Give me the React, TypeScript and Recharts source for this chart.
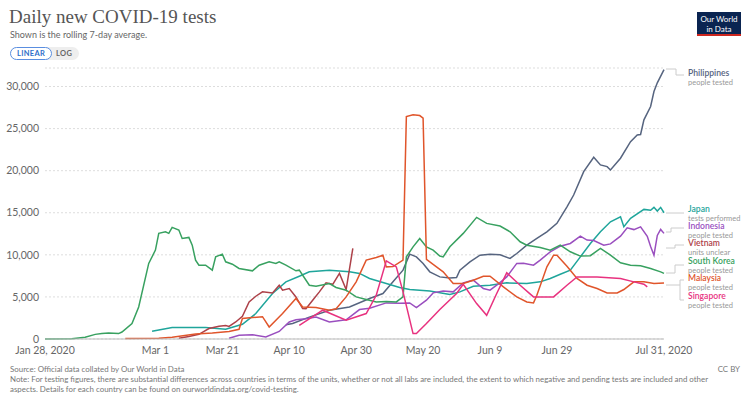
import React from "react";
import { LineChart, Line, XAxis, YAxis, CartesianGrid } from "recharts";

// x positions are days since Jan 28, 2020
const tickDays = [0, 33, 53, 73, 93, 113, 133, 153, 185];
const tickLabels = ["Jan 28, 2020", "Mar 1", "Mar 21", "Apr 10", "Apr 30", "May 20", "Jun 9", "Jun 29", "Jul 31, 2020"];
const yTicks = [0, 5000, 10000, 15000, 20000, 25000, 30000];

type Pt = [number, number];

const philippines: Pt[] = [
  [72, 1700], [74, 1850], [79, 2600], [85, 3420], [91, 3800], [97, 4810], [101, 5400], [104, 6790],
  [107, 8180], [109, 10080], [111, 9760], [113, 8980], [115, 7980], [118, 7380], [121, 7260], [123, 7300],
  [124, 8180], [127, 9170], [130, 9960], [133, 10080], [136, 10000], [139, 9570], [141, 10160], [144, 11150],
  [147, 11950], [150, 12740], [153, 13740], [156, 15710], [158, 17110], [161, 19880], [164, 21590], [166, 20680],
  [168, 20480], [169, 20080], [172, 21480], [175, 23450], [177, 24250], [178, 24300], [179, 26040], [181, 27630],
  [182, 29400], [183, 30440], [185, 32000],
];

const japan: Pt[] = [
  [32, 910], [38, 1360], [48, 1360], [54, 1150], [59, 1750], [63, 3020], [68, 5400], [72, 6790], [76, 7460],
  [79, 7980], [85, 8180], [91, 7980], [94, 7790], [97, 7190], [102, 6590], [106, 6120], [109, 5880], [115, 5710],
  [121, 5300], [124, 5600], [128, 6270], [133, 6390], [138, 6670], [144, 6600], [148, 6790], [151, 7190],
  [154, 7700], [157, 8180], [160, 9760], [163, 11350], [166, 12740], [169, 13930], [172, 14520], [173, 13330],
  [175, 14330], [179, 15400], [181, 15300], [182, 15640], [183, 15200], [184, 15640], [185, 15000],
];

const indonesia: Pt[] = [
  [55, 100], [58, 450], [62, 500], [66, 250], [70, 900], [73, 2020], [75, 2280], [78, 2400], [81, 2620],
  [85, 2020], [90, 2280], [94, 3500], [97, 3660], [102, 4290], [106, 4250], [109, 4290], [111, 3740],
  [114, 4610], [116, 5480], [119, 5710], [122, 5600], [125, 6670], [128, 6990], [131, 6000], [133, 5800],
  [135, 6390], [138, 7380], [141, 8980], [143, 9000], [146, 8770], [148, 9370], [151, 10360], [154, 11030],
  [157, 11350], [160, 12220], [162, 11750], [164, 11700], [167, 11150], [169, 11300], [172, 12220],
  [174, 13210], [176, 13000], [178, 13330], [180, 12200], [181, 11000], [182, 9960], [183, 12300],
  [184, 13020], [185, 12550],
];

const vietnam: Pt[] = [
  [40, 100], [43, 300], [46, 560], [49, 1240], [52, 1510], [54, 1600], [55, 1500], [57, 2020], [59, 2700],
  [61, 4400], [63, 5080], [65, 5600], [68, 5480], [70, 6390], [71, 5800], [73, 6000], [75, 5000], [77, 3620],
  [78, 3600], [80, 4610], [82, 5600], [84, 6670], [86, 6500], [88, 7790], [90, 5880], [92, 10760],
];

const southKorea: Pt[] = [
  [0, 0], [8, 30], [12, 200], [15, 550], [17, 640], [19, 700], [22, 640], [23, 830], [26, 1830], [28, 3800],
  [31, 8980], [33, 10560], [34, 12550], [36, 12740], [37, 12550], [38, 13260], [40, 12940], [41, 11950],
  [43, 12070], [44, 11150], [45, 9370], [46, 8770], [48, 8770], [50, 8180], [51, 9760], [53, 10080],
  [54, 9170], [56, 8890], [58, 8380], [62, 8100], [64, 8770], [67, 9170], [69, 8980], [70, 9170], [72, 8770],
  [75, 8100], [76, 8180], [79, 6390], [81, 6270], [85, 6590], [87, 6120], [90, 5800], [93, 5000], [96, 4690],
  [99, 4400], [102, 4450], [105, 4400], [107, 5000], [108, 9760], [110, 10950], [112, 11950], [114, 10950],
  [116, 10560], [118, 9850], [119, 9760], [121, 10950], [125, 12550], [129, 14450], [132, 13740],
  [136, 13420], [139, 12740], [142, 11550], [144, 11150], [148, 10880], [151, 10560], [154, 11150],
  [157, 10360], [160, 9850], [163, 9900], [166, 10760], [169, 9960], [172, 9050], [175, 8770], [178, 8690],
  [181, 8380], [184, 7980], [185, 7790],
];

const malaysia: Pt[] = [
  [24, 50], [34, 100], [38, 200], [45, 600], [50, 700], [55, 900], [58, 1150], [59, 2430], [62, 2550],
  [65, 2650], [67, 1430], [71, 3020], [75, 4810], [77, 3800], [81, 3750], [85, 3420], [87, 3600], [90, 5000],
  [93, 6790], [96, 9370], [99, 9690], [101, 9960], [102, 8570], [104, 8600], [107, 9370], [108, 26430],
  [110, 26630], [112, 26550], [113, 26240], [114, 9450], [117, 8570], [119, 7980], [122, 6590], [125, 6590],
  [128, 6990], [131, 7460], [133, 7460], [137, 6190], [141, 5000], [144, 4400], [146, 4290], [147, 5200],
  [150, 8570], [152, 9960], [153, 9960], [156, 8650], [159, 7190], [162, 6390], [165, 6000], [168, 5480],
  [171, 5480], [173, 5880], [176, 6790], [179, 6790], [182, 6590], [185, 6650],
];

const singapore: Pt[] = [
  [76, 1630], [83, 3420], [90, 2230], [96, 3020], [99, 5200], [102, 9290], [105, 8570], [107, 5600],
  [110, 640], [111, 640], [114, 1830], [118, 3500], [123, 5400], [125, 6500], [129, 4210], [132, 2820],
  [135, 5400], [138, 7860], [142, 6390], [146, 5000], [152, 5000], [156, 6390], [159, 7380], [165, 7380],
  [172, 7190], [176, 6790], [179, 6510], [180, 6190],
];

const series = [
  { name: "Philippines", unit: "people tested", color: "#56647f", values: philippines },
  { name: "Japan", unit: "tests performed", color: "#1fa59b", values: japan },
  { name: "Indonesia", unit: "people tested", color: "#9a4fbf", values: indonesia },
  { name: "Vietnam", unit: "units unclear", color: "#ad4149", values: vietnam },
  { name: "South Korea", unit: "people tested", color: "#38a160", values: southKorea },
  { name: "Malaysia", unit: "people tested", color: "#e0552b", values: malaysia },
  { name: "Singapore", unit: "people tested", color: "#e8327f", values: singapore },
];

// legend label centre lines, top to bottom (same order as series)
const legendY = [73, 209, 226, 243, 261, 278, 296];
const connectors = [
  "M666,69H676V75H684",
  "M666,213H684",
  "M666,232H671V228H684",
  "M666,248H675V245H684",
  "M666,273H675V265H684",
  "M666,285H680M680,280V300M680,280H684M680,300H684",
];

const font = "Lato, 'Noto Sans', sans-serif";

function fmt(v: number) {
  return v.toLocaleString("en-US");
}

export default function App() {
  const tickLabel = (d: number) => tickLabels[tickDays.indexOf(d)] ?? "";
  return (
    <div style={{ position: "absolute", left: 0, top: 0, width: 750, height: 399, background: "#fff", fontFamily: font }}>
      <div style={{ position: "absolute", left: 9, top: 6, fontFamily: "'Liberation Serif', serif", fontSize: 19, color: "#555" }}>
        Daily new COVID-19 tests
      </div>
      <div style={{ position: "absolute", left: 10, top: 29, fontSize: 9, color: "#666" }}>
        Shown is the rolling 7-day average.
      </div>
      <div style={{ position: "absolute", left: 10, top: 47, display: "flex", fontSize: 7.5, fontWeight: 700, letterSpacing: 0.3 }}>
        <div style={{ border: "1px solid #5a8ee0", borderRadius: 7, padding: "1px 6px", color: "#2f6fc9", background: "#fff", zIndex: 1 }}>LINEAR</div>
        <div style={{ borderRadius: "0 7px 7px 0", padding: "2px 7px 2px 10px", marginLeft: -6, color: "#666", background: "#eee" }}>LOG</div>
      </div>
      <div style={{ position: "absolute", left: 697, top: 12, width: 44, height: 24, background: "#0a2451", borderBottom: "2px solid #ce261e", color: "#fff", fontSize: 8, lineHeight: "10px", textAlign: "center", paddingTop: 2, boxSizing: "border-box" }}>
        Our World<br />in Data
      </div>

      <div style={{ position: "absolute", left: 0, top: 0 }}>
        <LineChart width={750} height={399} margin={{ top: 68, right: 86, bottom: 30, left: 5 }}>
          <CartesianGrid vertical={false} stroke="#ddd" strokeDasharray="2 2" />
          <XAxis
            dataKey="d"
            type="number"
            domain={[0, 185]}
            ticks={tickDays}
            tickFormatter={tickLabel}
            allowDuplicatedCategory={false}
            axisLine={{ stroke: "#bbb" }}
            tickLine={false}
            tick={{ fontSize: 10.5, fill: "#666", fontFamily: font }}
            interval={0}
            height={30}
          />
          <YAxis
            type="number"
            domain={[0, 32200]}
            ticks={yTicks}
            tickFormatter={fmt}
            axisLine={false}
            tickLine={false}
            tickSize={4}
            width={40}
            tick={{ fontSize: 10.5, fill: "#666", fontFamily: font }}
          />
          {series.map((s) => (
            <Line
              key={s.name}
              data={s.values.map(([d, v]) => ({ d, v }))}
              dataKey="v"
              type="linear"
              stroke={s.color}
              strokeWidth={1.5}
              dot={false}
              isAnimationActive={false}
            />
          ))}
        </LineChart>
      </div>

      <svg width={750} height={399} style={{ position: "absolute", left: 0, top: 0, pointerEvents: "none" }}>
        {connectors.map((p, i) => (
          <path key={i} d={p} fill="none" stroke="#ccc" strokeWidth={1} />
        ))}
        {series.map((s, i) => (
          <g key={s.name} fontFamily={font}>
            <text x={688} y={legendY[i] + 2.5} fontSize={8.6} fontWeight={600} fill={s.color}>{s.name}</text>
            <text x={688} y={legendY[i] + 11.5} fontSize={7.5} fill="#999">{s.unit}</text>
          </g>
        ))}
      </svg>

      <div style={{ position: "absolute", left: 10, top: 364, width: 700, fontSize: 7.9, lineHeight: "10px", color: "#777" }}>
        <div>Source: Official data collated by Our World in Data</div>
        <div>
          Note: For testing figures, there are substantial differences across countries in terms of the units, whether or not all labs are included, the extent to which negative and pending tests are included and other aspects. Details for each country can be found on ourworldindata.org/covid-testing.
        </div>
      </div>
      <div style={{ position: "absolute", right: 10, top: 364, fontSize: 7.9, lineHeight: "10px", color: "#777" }}>CC BY</div>
    </div>
  );
}
